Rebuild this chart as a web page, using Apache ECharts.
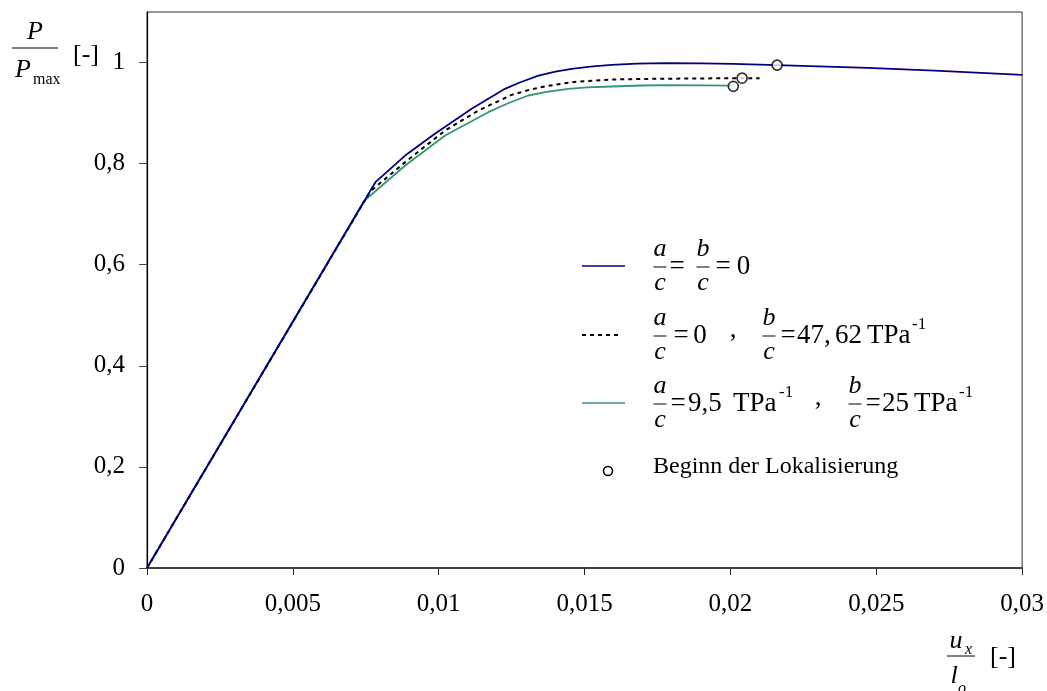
<!DOCTYPE html>
<html>
<head>
<meta charset="utf-8">
<script src="https://cdn.jsdelivr.net/npm/echarts@6/dist/echarts.min.js"></script>
<style>
html,body{margin:0;padding:0;background:#fff;}
#chart{width:1047px;height:691px;}
</style>
</head>
<body>
<div id="chart"></div>
<script>
// ---- data (x = u_x/l_o, y = P/Pmax) ----
const seriesNames = ['a/c = b/c = 0', 'a/c = 0 , b/c = 47,62 TPa-1', 'a/c = 9,5 TPa-1 , b/c = 25 TPa-1', 'Beginn der Lokalisierung'];
const blueData = [[0,0],[0.00784,0.764],[0.00885,0.816],[0.00987,0.859],[0.0105,0.884],[0.01113,0.9085],[0.01227,0.948],[0.0128,0.961],[0.01342,0.974],[0.0140,0.982],[0.01456,0.9875],[0.0152,0.992],[0.01593,0.9954],[0.0168,0.998],[0.0178,0.9987],[0.0190,0.9985],[0.0201,0.9974],[0.0216,0.995],[0.0247,0.9895],[0.027,0.984],[0.03,0.9757]];
const blackData = [[0,0],[0.00748,0.7285],[0.00765,0.745],[0.00885,0.803],[0.01022,0.8656],[0.01136,0.905],[0.0125,0.936],[0.0131,0.946],[0.01365,0.953],[0.0142,0.958],[0.01479,0.9625],[0.01593,0.9664],[0.0170,0.9676],[0.0178,0.968],[0.0201,0.969],[0.0210,0.969]];
const greenData = [[0,0],[0.00745,0.7265],[0.00885,0.7964],[0.01022,0.8557],[0.0117,0.9018],[0.0124,0.920],[0.01307,0.9348],[0.0137,0.942],[0.01444,0.948],[0.0151,0.951],[0.01593,0.9526],[0.0170,0.9546],[0.0178,0.9555],[0.0201,0.9545]];
const localisationPoints = [[0.0216,0.995],[0.0204,0.969],[0.0201,0.953]];
const xTickLabels = ['0','0,005','0,01','0,015','0,02','0,025','0,03'];
const yTickLabels = ['0','0,2','0,4','0,6','0,8','1'];

const SERIF = "'Liberation Serif','Times New Roman',serif";
const FS = 25;      // axis labels
const FF = 27;      // formula roman text
const FI = 26;      // formula italic letters
const FSUP = 17;    // superscript

function fmt(labels, step) {
  return function (v) {
    const i = Math.round(v / step);
    if (Math.abs(v - i * step) > 1e-9) return '';
    return labels[i] !== undefined ? labels[i] : '';
  };
}

function txt(x, y, s, opts) {
  opts = opts || {};
  return {
    type: 'text', x: x, y: y, z: 100,
    style: {
      text: s, fill: '#000', font: (opts.italic ? 'italic ' : '') + (opts.size || FS) + 'px ' + SERIF,
      align: opts.align || 'center', verticalAlign: 'middle'
    }
  };
}
function hline(x1, x2, y, color, w, dash) {
  return { type: 'line', z: 100, shape: { x1: x1, y1: y, x2: x2, y2: y },
    style: { stroke: color, lineWidth: w || 1, lineDash: dash || null } };
}
function frac(cx, barY, top, bottom, half) {
  half = half || 6.5;
  return [
    txt(cx, barY - 18, top, { italic: true, size: FI }),
    hline(cx - half, cx + half, barY, '#000', 1),
    txt(cx, barY + 16, bottom, { italic: true, size: FI })
  ];
}
function rom(x, y, s, align) { return txt(x, y, s, { size: FF, align: align || 'left' }); }
function sup(x, y, s) { return txt(x, y - 11, s, { size: FSUP, align: 'left' }); }

const graphics = [];
// y axis title
graphics.push(txt(35, 32, 'P', { italic: true, size: 26 }));
graphics.push(hline(12, 58, 48, '#000', 1));
graphics.push(txt(23, 70, 'P', { italic: true, size: 26 }));
graphics.push(txt(33, 80, 'max', { size: 16, align: 'left' }));
graphics.push(txt(86, 55, '[-]', { size: 26 }));
// x axis title
graphics.push(txt(956, 641, 'u', { italic: true, size: 26 }));
graphics.push(txt(965, 650, 'x', { italic: true, size: 16, align: 'left' }));
graphics.push(hline(947, 975, 656, '#000', 1));
graphics.push(txt(954, 676, 'l', { italic: true, size: 26 }));
graphics.push(txt(958, 689, 'o', { italic: true, size: 16, align: 'left' }));
graphics.push(txt(1003, 657, '[-]', { size: 26 }));

// legend
// row 1
graphics.push(hline(582, 625, 266, '#000080', 1.6));
graphics.push(...frac(660, 267, 'a', 'c'));
graphics.push(rom(677, 267, '=', 'center'));
graphics.push(...frac(703, 267, 'b', 'c'));
graphics.push(rom(723, 267, '=', 'center'));
graphics.push(rom(743.5, 267, '0', 'center'));
// row 2
graphics.push(hline(582, 622, 335, '#000', 2, [4, 4]));
graphics.push(...frac(660, 336, 'a', 'c'));
graphics.push(rom(681, 336, '=', 'center'));
graphics.push(rom(700, 336, '0', 'center'));
graphics.push(rom(733, 330, ',', 'center'));
graphics.push(...frac(769, 336, 'b', 'c'));
graphics.push(rom(788, 336, '=', 'center'));
graphics.push(rom(797, 336, '47,'));
graphics.push(rom(835, 336, '62'));
graphics.push(rom(867, 336, 'TPa'));
graphics.push(sup(912, 336, '-1'));
// row 3
graphics.push(hline(582, 625, 403, '#339966', 1.6));
graphics.push(...frac(660, 404, 'a', 'c'));
graphics.push(rom(678, 404, '=', 'center'));
graphics.push(rom(688, 404, '9,5'));
graphics.push(rom(733, 404, 'TPa'));
graphics.push(sup(779, 404, '-1'));
graphics.push(rom(818, 398, ',', 'center'));
graphics.push(...frac(855, 404, 'b', 'c'));
graphics.push(rom(873, 404, '=', 'center'));
graphics.push(rom(882, 404, '25'));
graphics.push(rom(914, 404, 'TPa'));
graphics.push(sup(959, 404, '-1'));
// row 4
graphics.push({ type: 'circle', z: 100, shape: { cx: 608, cy: 471, r: 4.5 }, style: { fill: '#fff', stroke: '#000', lineWidth: 1.6 } });
graphics.push(txt(653, 467, seriesNames[3], { align: 'left', size: 24 }));

const chart = echarts.init(document.getElementById('chart'), null, { renderer: 'canvas' });
chart.setOption({
  animation: false,
  backgroundColor: '#fff',
  grid: { left: 147, right: 24, top: 12, bottom: 123, show: true, borderColor: '#333', borderWidth: 1, containLabel: false },
  xAxis: {
    type: 'value', min: 0, max: 0.03, interval: 0.005,
    axisLine: { show: true, onZero: false, lineStyle: { color: '#222', width: 1.5 } },
    axisTick: { show: true, inside: false, length: 7, lineStyle: { color: '#222' } },
    splitLine: { show: false },
    axisLabel: { margin: 24, color: '#000', fontFamily: SERIF, fontSize: FS, formatter: fmt(xTickLabels, 0.005) }
  },
  yAxis: {
    type: 'value', min: 0, max: 1.1, interval: 0.2,
    axisLine: { show: true, onZero: false, lineStyle: { color: '#000', width: 1.2 } },
    axisTick: { show: true, inside: false, length: 8, lineStyle: { color: '#444' } },
    splitLine: { show: false },
    axisLabel: { margin: 22, color: '#000', fontFamily: SERIF, fontSize: FS, formatter: fmt(yTickLabels, 0.2), showMaxLabel: false }
  },
  graphic: graphics,
  series: [
    { name: seriesNames[2], type: 'line', data: greenData, symbol: 'none', smooth: false,
      lineStyle: { color: '#339966', width: 1.8 }, z: 2 },
    { name: seriesNames[1], type: 'line', data: blackData, symbol: 'none', smooth: false,
      lineStyle: { color: '#000', width: 2, type: [4, 4] }, z: 3 },
    { name: seriesNames[0], type: 'line', data: blueData, symbol: 'none', smooth: false,
      lineStyle: { color: '#000080', width: 1.8 }, z: 4 },
    { name: seriesNames[3], type: 'scatter', data: localisationPoints, symbol: 'circle', symbolSize: 10,
      itemStyle: { color: '#fff', borderColor: '#000', borderWidth: 1.7 }, z: 5 }
  ]
});
</script>
</body>
</html>
